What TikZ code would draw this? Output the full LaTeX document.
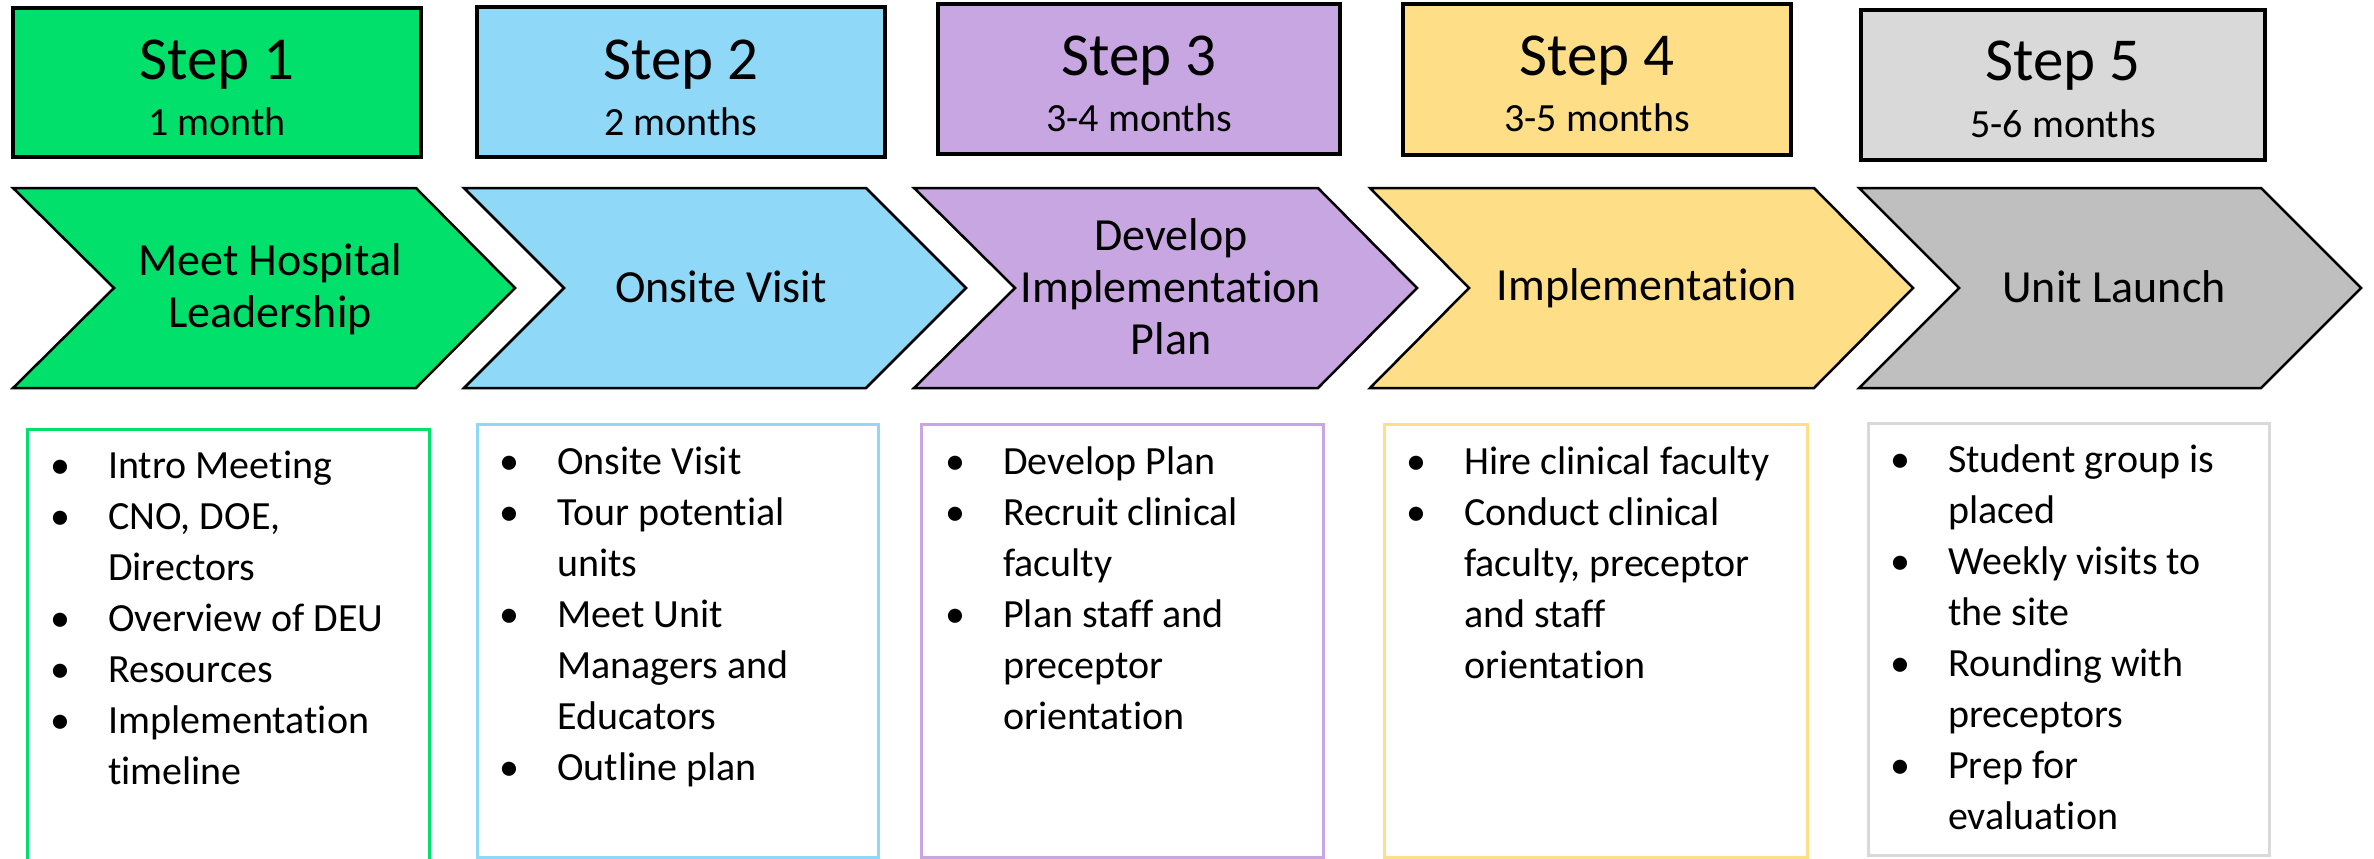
\documentclass[tikz,border=0pt]{standalone}
\usepackage{fontspec}
\setmainfont{Carlito}[Ligatures=NoCommon]
\definecolor{cgreen}{HTML}{00E06A}
\definecolor{cblue}{HTML}{8FD8F8}
\definecolor{cpurple}{HTML}{C8A6E2}
\definecolor{cyellow}{HTML}{FEDF88}
\definecolor{cgreylight}{HTML}{D9D9D9}
\definecolor{cgreydark}{HTML}{BFBFBF}
\newcommand{\bul}{\textbullet}
\begin{document}
\begin{tikzpicture}[x=1pt,y=-1pt,
  stepbox/.style={draw=black,line width=3.5pt},
  chev/.style={draw=black,line width=2.5pt},
  listbox/.style={line width=3pt,fill=white},
  steptitle/.style={inner sep=0pt,anchor=base,font=\fontsize{61}{70}\selectfont},
  stepdur/.style={inner sep=0pt,anchor=base,font=\fontsize{40}{48}\selectfont},
  chevtext/.style={inner sep=0pt,anchor=base,font=\fontsize{46}{52}\selectfont},
  listtext/.style={inner sep=0pt,anchor=base west,font=\fontsize{40}{51}\selectfont}]
\useasboundingbox (0,0) rectangle (2374,859);
\clip (0,0) rectangle (2374,859);
\fill[white] (0,0) rectangle (2374,859);

% step boxes
\draw[stepbox,fill=cgreen] (13,8) rectangle (421,157);
\draw[stepbox,fill=cblue] (477,7) rectangle (885,157);
\draw[stepbox,fill=cpurple] (938,4) rectangle (1340,154);
\draw[stepbox,fill=cyellow] (1403,4) rectangle (1791,155);
\draw[stepbox,fill=cgreylight] (1861,10) rectangle (2265,160);

\node[steptitle] (s1) at (217,79) {Step 1};
\node[stepdur] (d1) at (217,135) {1 month};
\node[steptitle] (s2) at (681,79) {Step 2};
\node[stepdur] (d2) at (681,135) {2 months};
\node[steptitle] (s3) at (1139,75) {Step 3};
\node[stepdur] (d3) at (1139,131) {3-4 months};
\node[steptitle] (s4) at (1597,75) {Step 4};
\node[stepdur] (d4) at (1597,131) {3-5 months};
\node[steptitle] (s5) at (2063,81) {Step 5};
\node[stepdur] (d5) at (2063,137) {5-6 months};

% chevrons
\draw[chev,fill=cgreen] (13,188) -- (416,188) -- (515,288) -- (416,388) -- (13,388) -- (114,288) -- cycle;
\draw[chev,fill=cblue] (464,188) -- (866,188) -- (966,288) -- (866,388) -- (464,388) -- (564,288) -- cycle;
\draw[chev,fill=cpurple] (914,188) -- (1318,188) -- (1417,288) -- (1318,388) -- (914,388) -- (1015,288) -- cycle;
\draw[chev,fill=cyellow] (1370,188) -- (1814,188) -- (1913,288) -- (1814,388) -- (1370,388) -- (1469,288) -- cycle;
\draw[chev,fill=cgreydark] (1859,188) -- (2261,188) -- (2361,288) -- (2261,388) -- (1859,388) -- (1959,288) -- cycle;

\node[chevtext] (c1) at (270,275) {\begin{tabular}[t]{@{}c@{}}Meet Hospital\\Leadership\end{tabular}};
\node[chevtext] (c2) at (721,302) {Onsite Visit};
\node[chevtext] (c3) at (1171,250) {\begin{tabular}[t]{@{}c@{}}Develop\\Implementation\\Plan\end{tabular}};
\node[chevtext] (c4) at (1647,300) {Implementation};
\node[chevtext] (c5) at (2114,302) {Unit Launch};

% list boxes
\draw[listbox,draw=cgreen] (27,429) rectangle (429,900);
\draw[listbox,draw=cblue] (477,424) rectangle (878,857);
\draw[listbox,draw=cpurple] (921,424) rectangle (1323,857);
\draw[listbox,draw=cyellow] (1384,424) rectangle (1807,857);
\draw[listbox,draw=cgreylight] (1868,423) rectangle (2269,855);

\node[listtext] (l1) at (50,478) {\begin{tabular}[t]{@{}p{58pt}@{}l@{}}
\bul & Intro Meeting\\
\bul & CNO, DOE,\\
 & Directors\\
\bul & Overview of DEU\\
\bul & Resources\\
\bul & Implementation\\
 & timeline
\end{tabular}};
\node[listtext] (l2) at (499,474) {\begin{tabular}[t]{@{}p{58pt}@{}l@{}}
\bul & Onsite Visit\\
\bul & Tour potential\\
 & units\\
\bul & Meet Unit\\
 & Managers and\\
 & Educators\\
\bul & Outline plan
\end{tabular}};
\node[listtext] (l3) at (945,474) {\begin{tabular}[t]{@{}p{58pt}@{}l@{}}
\bul & Develop Plan\\
\bul & Recruit clinical\\
 & faculty\\
\bul & Plan staff and\\
 & preceptor\\
 & orientation
\end{tabular}};
\node[listtext] (l4) at (1406,474) {\begin{tabular}[t]{@{}p{58pt}@{}l@{}}
\bul & Hire clinical faculty\\
\bul & Conduct clinical\\
 & faculty, preceptor\\
 & and staff\\
 & orientation
\end{tabular}};
\node[listtext] (l5) at (1890,472) {\begin{tabular}[t]{@{}p{58pt}@{}l@{}}
\bul & Student group is\\
 & placed\\
\bul & Weekly visits to\\
 & the site\\
\bul & Rounding with\\
 & preceptors\\
\bul & Prep for\\
 & evaluation
\end{tabular}};
\end{tikzpicture}
\end{document}
